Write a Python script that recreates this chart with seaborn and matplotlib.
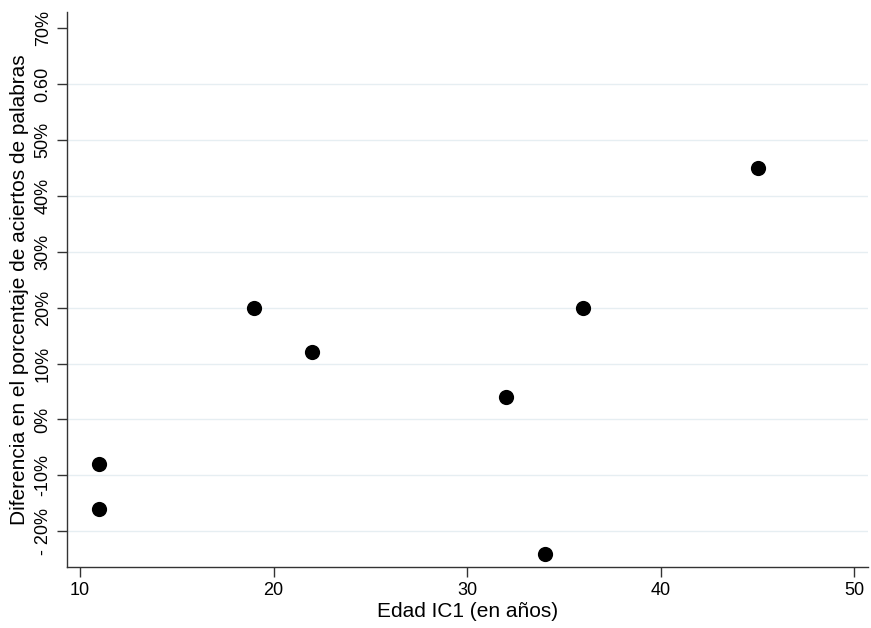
import matplotlib.pyplot as plt
import seaborn as sns
import pandas as pd

plt.switch_backend('Agg')

# Data
edad = [11, 11, 19, 22, 32, 34, 36, 45]
diferencia = [-0.08, -0.16, 0.20, 0.12, 0.04, -0.24, 0.20, 0.45]

y_ticks = [-0.20, -0.10, 0.0, 0.10, 0.20, 0.30, 0.40, 0.50, 0.60, 0.70]
y_tick_labels = ['- 20%', '-10%', '0%', '10%', '20%', '30%', '40%', '50%', '0.60', '70%']
x_ticks = [10, 20, 30, 40, 50]

df = pd.DataFrame({'edad': edad, 'diferencia': diferencia})

sns.set_style('white')
plt.rcParams['font.family'] = ['Liberation Sans', 'DejaVu Sans']
plt.rcParams['text.color'] = 'black'
plt.rcParams['axes.labelcolor'] = 'black'

fig = plt.figure(figsize=(8.71, 6.28), dpi=100)
ax = fig.add_axes([67 / 871, 61 / 628, 801 / 871, 555 / 628])

sns.scatterplot(data=df, x='edad', y='diferencia', ax=ax, color='black',
                s=120, edgecolor='black', linewidth=0, zorder=3)

ax.set_xlim(9.33, 50.7)
ax.set_ylim(-0.264, 0.729)

ax.set_yticks(y_ticks)
ax.set_yticklabels(y_tick_labels, rotation=90, va='center', fontsize=13)
ax.set_xticks(x_ticks)
ax.set_xticklabels([str(t) for t in x_ticks], fontsize=13)

# light horizontal gridlines like the Stata scheme
for t in y_ticks[:-1]:
    ax.axhline(t, color='#e6eef2', linewidth=1, zorder=0)

ax.tick_params(axis='both', direction='out', length=7, width=1,
               color='#333333', labelcolor='black', pad=4,
               bottom=True, left=True)
for side in ['top', 'right']:
    ax.spines[side].set_visible(False)
for side in ['left', 'bottom']:
    ax.spines[side].set_color('#333333')
    ax.spines[side].set_linewidth(1)

ax.set_xlabel('Edad IC1 (en años)', fontsize=15, labelpad=2)
ax.set_ylabel('Diferencia en el porcentaje de aciertos de palabras',
              fontsize=15, labelpad=4)

fig.savefig('out.png', dpi=100)
plt.close(fig)
